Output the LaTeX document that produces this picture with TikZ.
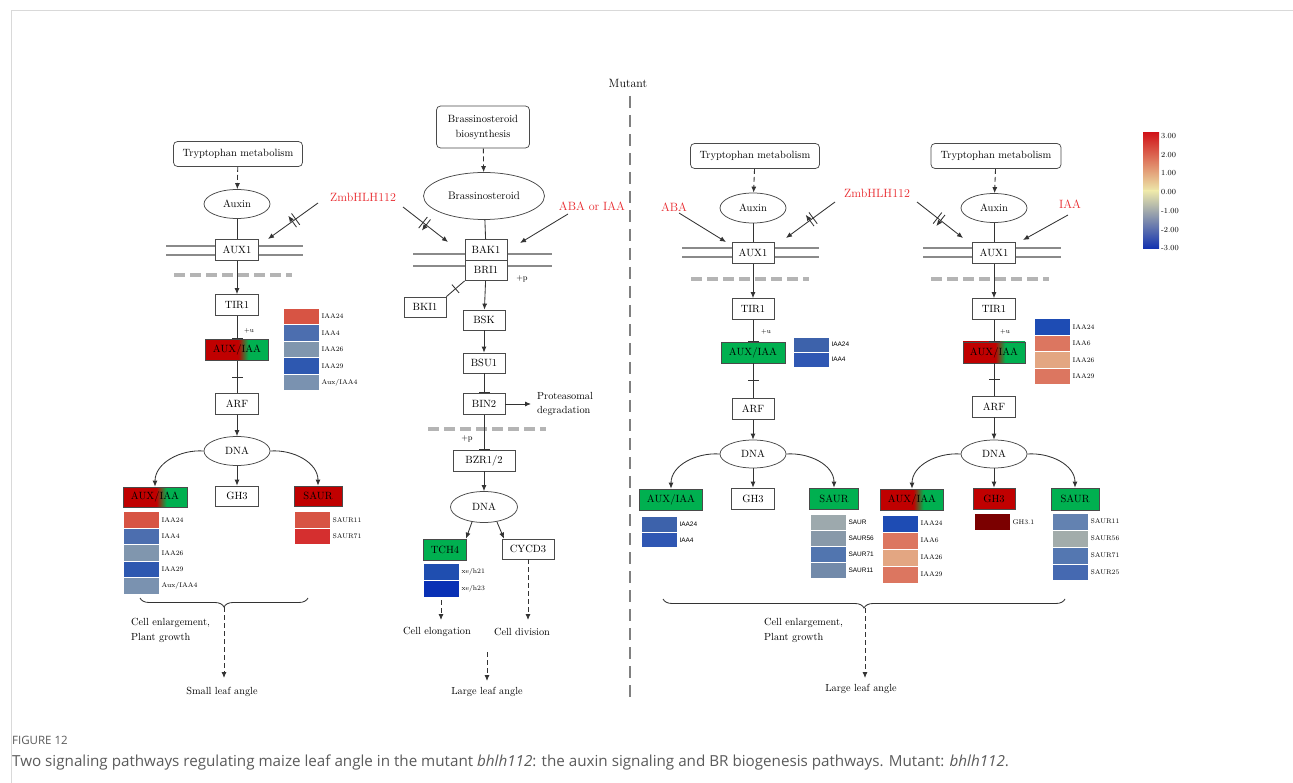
\documentclass[tikz,border=0pt]{standalone}
\usepackage{fontspec}
\newfontfamily\capfont{Open Sans}
\newfontfamily\lsans{Liberation Sans}
\usetikzlibrary{arrows.meta,shapes.geometric,decorations.pathreplacing,decorations.markings}
\definecolor{kred}{HTML}{C00000}
\definecolor{kgreen}{HTML}{00B050}
\definecolor{boxc}{HTML}{4A4A4A}
\definecolor{memc}{HTML}{8A8A8A}
\definecolor{dashc}{HTML}{B4B4B4}
\definecolor{redtxt}{HTML}{E8262B}
\definecolor{framec}{HTML}{D9D9D9}
\definecolor{captc}{HTML}{5A5A5A}
\definecolor{mutc}{HTML}{808080}
% heat colours
\definecolor{hRa}{HTML}{D75444}
\definecolor{hRb}{HTML}{D52F2F}
\definecolor{hBa}{HTML}{4C6EAF}
\definecolor{hGa}{HTML}{8096AE}
\definecolor{hBb}{HTML}{2E58B0}
\definecolor{hGb}{HTML}{7A92B0}
\definecolor{hTa}{HTML}{1F4EB0}
\definecolor{hTb}{HTML}{0930B5}
\definecolor{mAa}{HTML}{3D62AB}
\definecolor{mAb}{HTML}{2F57B3}
\definecolor{mSa}{HTML}{9DA9AD}
\definecolor{mSb}{HTML}{8899A9}
\definecolor{mSc}{HTML}{5175AF}
\definecolor{mSd}{HTML}{728AAA}
\definecolor{nBa}{HTML}{1E4CB4}
\definecolor{nOa}{HTML}{DC7660}
\definecolor{nOb}{HTML}{E3A682}
\definecolor{nDk}{HTML}{7B0000}
\definecolor{nSa}{HTML}{6382B1}
\definecolor{nSb}{HTML}{A2ACAB}
\definecolor{nSc}{HTML}{5477B1}
\definecolor{nSd}{HTML}{4569B1}
\definecolor{cbRed}{HTML}{D0151A}
\definecolor{cbYel}{HTML}{EDE8AA}
\definecolor{cbBlue}{HTML}{1030B0}
\pgfdeclarehorizontalshading{redgreen}{100bp}{color(0bp)=(kred); color(51bp)=(kred); color(59bp)=(kgreen); color(100bp)=(kgreen)}
\newcommand\hm[6][]{\node[hcell,fill=#5,#1] (#2) at (#3,#4) {}; \node[hlab] (#2t) at (#2.east) {#6};}
\newcommand\hms[6][]{\node[hcell,fill=#5,#1] (#2) at (#3,#4) {}; \node[slab] (#2t) at (#2.east) {#6};}
\begin{document}
\begin{tikzpicture}[x=1pt,y=-1pt,
  box/.style={draw=boxc, line width=0.75pt, fill=white, minimum width=43pt, minimum height=21pt, inner sep=0pt, font=\fontsize{10.5}{12}\selectfont},
  rbox/.style={box, rounded corners=4pt, font=\fontsize{10.5}{13}\selectfont},
  ell/.style={ellipse, draw=boxc, line width=0.75pt, fill=white, inner sep=0pt, minimum width=66pt, minimum height=29pt, font=\fontsize{10.5}{12}\selectfont},
  redbox/.style={box, fill=kred},
  grnbox/.style={box, fill=kgreen},
  gradbox/.style={box, shade, shading=redgreen},
  membrane/.style={draw=memc, line width=2.6pt},
  cyto/.style={draw=dashc, line width=3.6pt, dash pattern=on 11pt off 5pt},
  ln/.style={line width=0.85pt, draw=black!80},
  arr/.style={ln, -{Latex[length=6pt,width=5pt]}},
  darr/.style={arr, dash pattern=on 5pt off 3pt},
  inh/.style={ln, -{Bar[width=11pt,line width=0.85pt]}},
  tick/.style={decoration={markings, mark=at position 0.5 with {\draw[line width=0.85pt] (0,-5.5)--(0,5.5);}}, postaction={decorate}},
  dbl/.style={decoration={markings, mark=at position 0.48 with {\draw[line width=0.85pt] (-2,-7)--(-2,7) (2,-7)--(2,7);}}, postaction={decorate}},
  hcell/.style={minimum width=36pt, minimum height=16.5pt, inner sep=0pt, draw=white, line width=0.6pt},
  hlab/.style={font=\fontsize{6.8}{8}\selectfont, inner sep=0pt, anchor=west, xshift=2pt},
  slab/.style={hlab, font=\lsans\fontsize{6.5}{8}\selectfont},
  redlab/.style={text=redtxt, font=\fontsize{12}{14}\selectfont, inner sep=1pt},
  txt/.style={font=\fontsize{10.3}{12}\selectfont, inner sep=0pt},
  small/.style={font=\fontsize{7}{8}\selectfont, inner sep=0pt},
  brc/.style={ln, decorate, decoration={brace, mirror, amplitude=9pt}},
]
\useasboundingbox (0,0) rectangle (1293,783);
% frame
\draw[framec, line width=1pt] (11,783) -- (11,11) -- (1293,11);

% ---------------- membranes & cytoplasm dashes
\draw[membrane] (166,246) -- (303,246) (166,255) -- (303,255);
\draw[cyto] (174,275) -- (292,275);
\draw[membrane] (413,254) -- (552,254) (413,266) -- (552,266);
\draw[cyto] (428,429) -- (546,429);
\draw[membrane] (682,248) -- (819,248) (682,257) -- (819,257);
\draw[cyto] (691,279) -- (809,279);
\draw[membrane] (923,248) -- (1061,248) (923,257) -- (1061,257);
\draw[cyto] (931,279) -- (1049,279);

% mutant divider
\node[font=\fontsize{12}{14}\selectfont, inner sep=0pt] (mut) at (628,83) {Mutant};
\coordinate (divA) at (630,96);
\coordinate (divB) at (630,700);
\draw[draw=mutc, line width=1.5pt, dash pattern=on 12pt off 7pt] (divA) -- (divB);

% ================= LEFT: auxin pathway
\node[rbox, minimum width=129pt, minimum height=25pt] (trpL) at (238,154) {Tryptophan metabolism};
\node[ell] (auxL) at (237,204) {Auxin};
\node[box] (aux1L) at (237,250) {AUX1};
\node[box] (tir1L) at (237,305) {TIR1};
\node[gradbox, minimum width=63pt] (aiL) at (237,350) {AUX/IAA};
\node[box] (arfL) at (237,404) {ARF};
\node[ell] (dnaL) at (237,451) {DNA};
\node[gradbox, minimum width=64pt, minimum height=20pt] (ai2L) at (155,497) {AUX/IAA};
\node[box, minimum height=20pt] (gh3L) at (237,496) {GH3};
\node[redbox, minimum width=48pt, minimum height=20pt] (saurL) at (318,496) {SAUR};
\node[small, font=\fontsize{6.5}{8}\selectfont] (puL) at (249,331) {+u};

\hm{lt1}{301}{316.5}{hRa}{IAA24}
\hm{lt2}{301}{333}{hBa}{IAA4}
\hm{lt3}{301}{349.5}{hGa}{IAA26}
\hm{lt4}{301}{366}{hBb}{IAA29}
\hm{lt5}{301}{382.5}{hGb}{Aux/IAA4}

\hm{lb1}{141}{520}{hRa}{IAA24}
\hm{lb2}{141}{536.5}{hBa}{IAA4}
\hm{lb3}{141}{553}{hGa}{IAA26}
\hm{lb4}{141}{569.5}{hBb}{IAA29}
\hm{lb5}{141}{586}{hGb}{Aux/IAA4}
\hm{ls1}{312}{520}{hRa}{SAUR11}
\hm{ls2}{312}{536.5}{hRb}{SAUR71}

\node[redlab] (zmbL) at (363,197) {ZmbHLH112};
\coordinate (zL1) at (318,203);
\coordinate (zL2) at (268,239);
\coordinate (zL3) at (403,207);
\coordinate (zL4) at (448,242);
\draw[arr, dbl] (zL1) -- (zL2);
\draw[arr, dbl] (zL3) -- (zL4);

\draw[darr] (trpL) -- (auxL);
\draw[ln] (auxL) -- (aux1L);
\draw[arr] (aux1L) -- (tir1L);
\draw[inh] (tir1L) -- (aiL);
\draw[ln, tick] (aiL) -- (arfL);
\draw[arr] (arfL) -- (dnaL);
\draw[arr] (dnaL.west) to[out=176,in=90] (ai2L.north);
\draw[arr] (dnaL) -- (gh3L);
\draw[arr] (dnaL.east) to[out=4,in=90] (saurL.north);

\coordinate (brL1) at (140,598);
\coordinate (brL2) at (308,598);
\coordinate (brLt) at (224,607);
\coordinate (brLe) at (224,678);
\draw[brc] (brL1) -- (brL2);
\draw[darr] (brLt) -- (brLe);
\node[txt, anchor=west, align=left] (ceL) at (131,630.5) {Cell enlargement,\\[3pt]Plant growth};
\node[txt] (slaL) at (222,692) {Small leaf angle};

% ================= BR pathway
\node[rbox, minimum width=93pt, minimum height=42pt, align=center, font=\fontsize{10.5}{15}\selectfont] (brbio) at (483,127) {Brassinosteroid\\biosynthesis};
\node[ell, minimum width=121pt, minimum height=47pt, font=\fontsize{11}{13}\selectfont] (brE) at (484,196) {Brassinosteroid};
\node[box, minimum width=42pt] (bak1) at (486,250) {BAK1};
\node[box, minimum width=42pt, minimum height=20pt] (bri1) at (486,270.5) {BRI1};
\node[small, font=\fontsize{8}{9}\selectfont] (pp1) at (522,279) {+p};
\node[box, minimum width=42pt, minimum height=20pt] (bki1) at (425,307) {BKI1};
\node[box, minimum width=42pt, minimum height=20pt] (bsk) at (484,320) {BSK};
\node[box, minimum width=42pt, minimum height=20pt] (bsu1) at (484,363) {BSU1};
\node[box, minimum width=42pt] (bin2) at (484,404) {BIN2};
\node[txt, anchor=west, align=left, font=\fontsize{10.3}{14}\selectfont] (prot) at (537,404) {Proteasomal\\degradation};
\node[small, font=\fontsize{8}{9}\selectfont] (pp2) at (467,439) {+p};
\node[box, minimum width=62pt] (bzr) at (484,460.5) {BZR1/2};
\node[ell, minimum width=67pt, minimum height=31pt] (dnaB) at (484,507) {DNA};
\node[grnbox, minimum width=43pt] (tch4) at (445,549.5) {TCH4};
\node[box, minimum width=52pt, minimum height=20pt] (cycd3) at (528,549) {CYCD3};
\hm[minimum height=17pt]{tc1}{441}{571.5}{hTa}{xe/h21}
\hm[minimum height=17pt]{tc2}{441}{588.5}{hTb}{xe/h23}
\node[txt] (celo) at (437,632) {Cell elongation};
\node[txt] (cdiv) at (522,632) {Cell division};
\node[txt] (llaB) at (487,692) {Large leaf angle};

\node[redlab] (abaiaa) at (592,206) {ABA or IAA};
\coordinate (ab1) at (568,214);
\coordinate (ab2) at (520,243);
\draw[arr] (ab1) -- (ab2);

\draw[darr] (brbio) -- (brE);
\draw[ln] (brE) -- (bak1);
\draw[arr] (bri1) -- (bsk);
\draw[ln, tick] (bri1.south west) -- (bki1.north east);
\draw[arr] (bsk) -- (bsu1);
\draw[inh] (bsu1) -- (bin2);
\coordinate (protA) at (531,404);
\draw[arr] (bin2) -- (protA);
\draw[inh] (bin2) -- (bzr);
\draw[arr] (bzr) -- (dnaB);
\coordinate (dB1) at (472,522);
\coordinate (dB2) at (497,522);
\draw[arr] (dB1) -- (tch4.north -| 466,0);
\draw[arr] (dB2) -- (cycd3.north -| 504,0);
\coordinate (tcA) at (441,600);
\coordinate (tcB) at (441,620);
\draw[darr] (tcA) -- (tcB);
\coordinate (cyB) at (528,620);
\draw[darr] (cycd3) -- (cyB);
\coordinate (llA) at (487,652);
\coordinate (llB) at (487,681);
\draw[darr] (llA) -- (llB);

% ================= MUTANT panel 1
\node[rbox, minimum width=129pt, minimum height=25pt] (trpM) at (755,156) {Tryptophan metabolism};
\node[ell, minimum height=30pt] (auxM) at (753,208) {Auxin};
\node[box, minimum width=42pt] (aux1M) at (753,253) {AUX1};
\node[box, minimum width=42pt] (tir1M) at (753,309) {TIR1};
\node[small, font=\fontsize{6.5}{8}\selectfont] (puM) at (766,332) {+u};
\node[grnbox, minimum width=64pt] (aiM) at (753,352.5) {AUX/IAA};
\node[box, minimum width=42pt] (arfM) at (753,409) {ARF};
\node[ell, minimum height=28pt] (dnaM) at (753,454) {DNA};
\node[grnbox, minimum width=63pt] (ai2M) at (671,499.5) {AUX/IAA};
\node[box] (gh3M) at (753,498.5) {GH3};
\node[grnbox, minimum width=49pt] (saurM) at (834,498.5) {SAUR};

\hms[minimum height=15pt]{mt1}{811}{344.5}{mAa}{IAA24}
\hms[minimum height=15pt]{mt2}{811}{359.5}{mAb}{IAA4}
\hms[minimum height=15.5pt]{mb1}{659}{524.5}{mAa}{IAA24}
\hms[minimum height=15.5pt]{mb2}{659}{540}{mAb}{IAA4}
\hms[minimum height=16pt]{ms1}{828}{522}{mSa}{SAUR}
\hms[minimum height=16pt]{ms2}{828}{538}{mSb}{SAUR56}
\hms[minimum height=16pt]{ms3}{828}{554}{mSc}{SAUR71}
\hms[minimum height=16pt]{ms4}{828}{570}{mSd}{SAUR11}

\node[redlab] (abaM) at (674,207) {ABA};
\coordinate (aM1) at (679,213);
\coordinate (aM2) at (726,242);
\draw[arr] (aM1) -- (aM2);

\node[redlab] (zmbM) at (877,193) {ZmbHLH112};
\coordinate (zM1) at (835,202);
\coordinate (zM2) at (786,238);
\coordinate (zM3) at (917,202);
\coordinate (zM4) at (963,238);
\draw[arr, dbl] (zM1) -- (zM2);
\draw[arr, dbl] (zM3) -- (zM4);

\draw[darr] (trpM) -- (auxM);
\draw[ln] (auxM) -- (aux1M);
\draw[arr] (aux1M) -- (tir1M);
\draw[inh] (tir1M) -- (aiM);
\draw[ln, tick] (aiM) -- (arfM);
\draw[arr] (arfM) -- (dnaM);
\draw[arr] (dnaM.west) to[out=176,in=90] (ai2M.north);
\draw[arr] (dnaM) -- (gh3M);
\draw[arr] (dnaM.east) to[out=4,in=90] (saurM.north);

% ================= MUTANT panel 2
\node[rbox, minimum width=130pt, minimum height=25pt] (trpN) at (996,156) {Tryptophan metabolism};
\node[ell] (auxN) at (994,208) {Auxin};
\node[box] (aux1N) at (994,253) {AUX1};
\node[box] (tir1N) at (994,309) {TIR1};
\node[small, font=\fontsize{6.5}{8}\selectfont] (puN) at (1005,332) {+u};
\node[gradbox, minimum width=62pt] (aiN) at (994,352.5) {AUX/IAA};
\node[box] (arfN) at (994,406.5) {ARF};
\node[ell, minimum height=28pt] (dnaN) at (994,454) {DNA};
\node[gradbox, minimum width=63pt] (ai2N) at (912,499.5) {AUX/IAA};
\node[redbox, minimum width=42pt] (gh3N) at (994,498.5) {GH3};
\node[grnbox, minimum width=48pt, minimum height=22pt] (saurN) at (1075,499) {SAUR};

\hm{nt1}{1052}{327}{nBa}{IAA24}
\hm{nt2}{1052}{343.5}{nOa}{IAA6}
\hm{nt3}{1052}{360}{nOb}{IAA26}
\hm{nt4}{1052}{376.5}{nOa}{IAA29}
\hm[minimum height=17pt]{nb1}{900}{523.5}{nBa}{IAA24}
\hm[minimum height=17pt]{nb2}{900}{540.5}{nOa}{IAA6}
\hm[minimum height=17pt]{nb3}{900}{557.5}{nOb}{IAA26}
\hm[minimum height=17pt]{nb4}{900}{574.5}{nOa}{IAA29}
\hm{ng1}{992}{522}{nDk}{GH3.1}
\hm[minimum height=17pt]{ns1}{1070}{521.5}{nSa}{SAUR11}
\hm[minimum height=17pt]{ns2}{1070}{538.5}{nSb}{SAUR56}
\hm[minimum height=17pt]{ns3}{1070}{555.5}{nSc}{SAUR71}
\hm[minimum height=16pt]{ns4}{1070}{572}{nSd}{SAUR25}

\node[redlab] (iaaN) at (1070,204) {IAA};
\coordinate (iN1) at (1068,215);
\coordinate (iN2) at (1023,240);
\draw[arr] (iN1) -- (iN2);

\draw[darr] (trpN) -- (auxN);
\draw[ln] (auxN) -- (aux1N);
\draw[arr] (aux1N) -- (tir1N);
\draw[inh] (tir1N) -- (aiN);
\draw[ln, tick] (aiN) -- (arfN);
\draw[arr] (arfN) -- (dnaN);
\draw[arr] (dnaN.west) to[out=176,in=90] (ai2N.north);
\draw[arr] (dnaN) -- (gh3N);
\draw[arr] (dnaN.east) to[out=4,in=90] (saurN.north);

% mutant brace
\coordinate (brM1) at (663,599);
\coordinate (brM2) at (1065,599);
\coordinate (brMt) at (865,608);
\coordinate (brMe) at (865,678);
\draw[brc] (brM1) -- (brM2);
\draw[darr] (brMt) -- (brMe);
\node[txt, anchor=west, align=left] (ceM) at (764,630.5) {Cell enlargement,\\[3pt]Plant growth};
\node[txt] (llaM) at (861,689) {Large leaf angle};

% ================= colour bar
\coordinate (cb1) at (1143,133);
\coordinate (cb2) at (1159,191);
\coordinate (cb3) at (1143,191);
\coordinate (cb4) at (1159,249);
\shade[top color=cbRed, bottom color=cbYel] (cb1) rectangle (cb2);
\shade[top color=cbYel, bottom color=cbBlue] (cb3) rectangle (cb4);
\foreach \v [count=\i from 0] in {3.00,2.00,1.00,0.00,-1.00,-2.00,-3.00}
  \node[font=\fontsize{7.8}{9}\selectfont, anchor=west, inner sep=0pt] (cbl\i) at (1161,136+18.7*\i) {\v};

% ================= caption
\node[anchor=west, inner sep=0pt, text=captc, font=\capfont\fontsize{11.5}{13}\selectfont] (figlab) at (12,740) {FIGURE 12};
\node[anchor=west, inner sep=0pt, text=captc, font=\capfont\fontsize{15.2}{18}\selectfont] (cap) at (12,763) {Two signaling pathways regulating maize leaf angle in the mutant \textit{bhlh112}: the auxin signaling and BR biogenesis pathways. Mutant: \textit{bhlh112}.};
\end{tikzpicture}
\end{document}
